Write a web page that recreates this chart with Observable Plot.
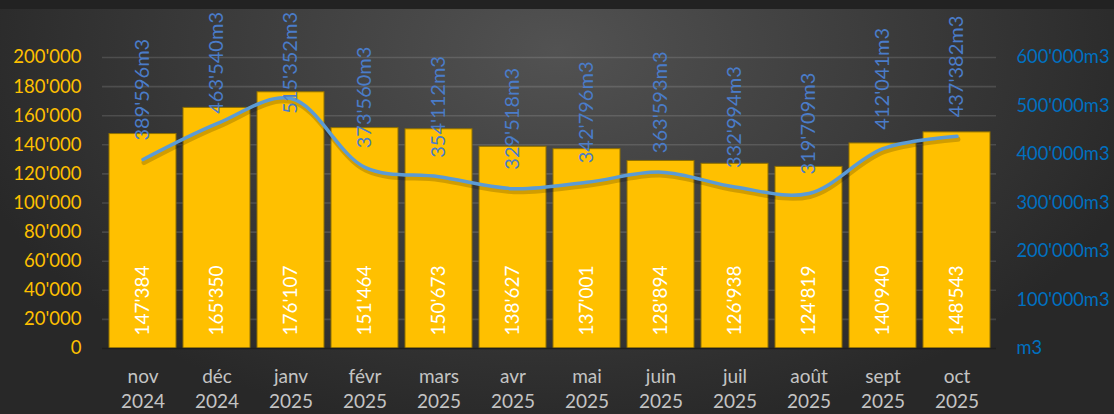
<!DOCTYPE html>
<html><head><meta charset="utf-8">
<script src="https://cdn.jsdelivr.net/npm/d3@7"></script>
<script src="https://cdn.jsdelivr.net/npm/@observablehq/plot@0.6"></script>
<style>
html,body{margin:0;padding:0;background:#262626;}
#chart{position:relative;width:1114px;height:414px;overflow:hidden;
 background:radial-gradient(ellipse 55% 95% at 50% 12%, #525252 0%, #3b3b3b 55%, #282828 100%);}
#chart::before{content:"";position:absolute;left:0;top:0;width:100%;height:9px;background:#222;}
#chart svg{position:absolute;left:0;top:0;}
</style></head><body><div id="chart"></div>
<script>
const months = ["nov 2024","déc 2024","janv 2025","févr 2025","mars 2025","avr 2025","mai 2025","juin 2025","juil 2025","août 2025","sept 2025","oct 2025"];
const tonnes = [147384,165350,176107,151464,150673,138627,137001,128894,126938,124819,140940,148543];
const volumes = [389596,463540,515352,373560,354112,329518,342796,363593,332994,319709,412041,437382];
const leftTicks = [0,20000,40000,60000,80000,100000,120000,140000,160000,180000,200000];
const rightTicks = [0,100000,200000,300000,400000,500000,600000];
const ratio = 3;
const volColor = "#4a7cc9";

const fmt = d3.formatLocale({thousands:"'", grouping:[3], decimal:".", currency:["",""]}).format(",");
const data = months.map((m,i)=>({m, t:tonnes[i], v:volumes[i]}));

const chart = Plot.plot({
  width:1114, height:414,
  marginLeft:102, marginRight:118, marginTop:57, marginBottom:66,
  style:{background:"transparent", fontFamily:"Lato, 'Open Sans', sans-serif"},
  x:{domain:months, paddingInner:0.1, paddingOuter:0.05, axis:null},
  y:{domain:[0,200000], axis:null},
  marks:[
    Plot.gridY(leftTicks.slice(1), {stroke:"#ffffff", strokeOpacity:0.13, strokeWidth:1.6}),
    Plot.axisY(leftTicks, {anchor:"left", label:null, tickSize:0, tickPadding:21, tickFormat:d=>fmt(d), fill:"#FFC000", fontSize:18.5}),
    Plot.axisY(rightTicks.map(d=>d/ratio), {anchor:"right", label:null, tickSize:0, tickPadding:20,
      tickFormat:d=>{const v=Math.round(d*ratio); return v===0 ? "m3" : fmt(v)+"m3";}, fill:"#0070C0", fontSize:18.3}),
    Plot.axisX({label:null, tickSize:0, tickPadding:17, tickFormat:d=>d.replace(" ","\n"), fill:"#c4c4c4", fontSize:19, lineHeight:1.3}),
    Plot.barY(data, {x:"m", y:"t", fill:"#FFC000", stroke:"#8f7000", strokeWidth:1}),
    Plot.ruleY([0], {stroke:"#1e1e1e", strokeWidth:1.5}),
    Plot.text(data, {x:"m", y:0, text:d=>fmt(d.t), rotate:-90, textAnchor:"start", dy:-13, fill:"#ffffff", fontSize:19}),
    Plot.line(data, {x:"m", y:d=>d.v/ratio, curve:"catmull-rom", stroke:"#000", strokeOpacity:0.18, strokeWidth:5, dy:3, dx:1}),
    Plot.line(data, {x:"m", y:d=>d.v/ratio, curve:"catmull-rom", stroke:"#5B9BD5", strokeWidth:3.5}),
    Plot.text(data, {x:"m", y:d=>d.v/ratio, text:d=>fmt(d.v)+"m3", rotate:-90, textAnchor:"start", dy:-19, fill:volColor, fontSize:20})
  ]
});
document.getElementById("chart").appendChild(chart);

// keep the volume labels inside the chart area (as the spreadsheet does)
const svgTop = chart.getBoundingClientRect().top;
const volTexts = Array.from(chart.querySelectorAll("text")).filter(t => {
  const f = (t.getAttribute("fill") || (t.parentNode && t.parentNode.getAttribute && t.parentNode.getAttribute("fill")) || "").toLowerCase();
  return f === volColor && /m3$/.test(t.textContent);
});
volTexts.forEach(t => {
  const r = t.getBoundingClientRect();
  const top = r.top - svgTop;
  const minTop = 12;
  if (top < minTop) {
    const shift = minTop - top;
    const tr = t.getAttribute("transform") || "";
    t.setAttribute("transform", `translate(0,${shift.toFixed(2)}) ${tr}`);
  }
});
</script>
</body></html>
